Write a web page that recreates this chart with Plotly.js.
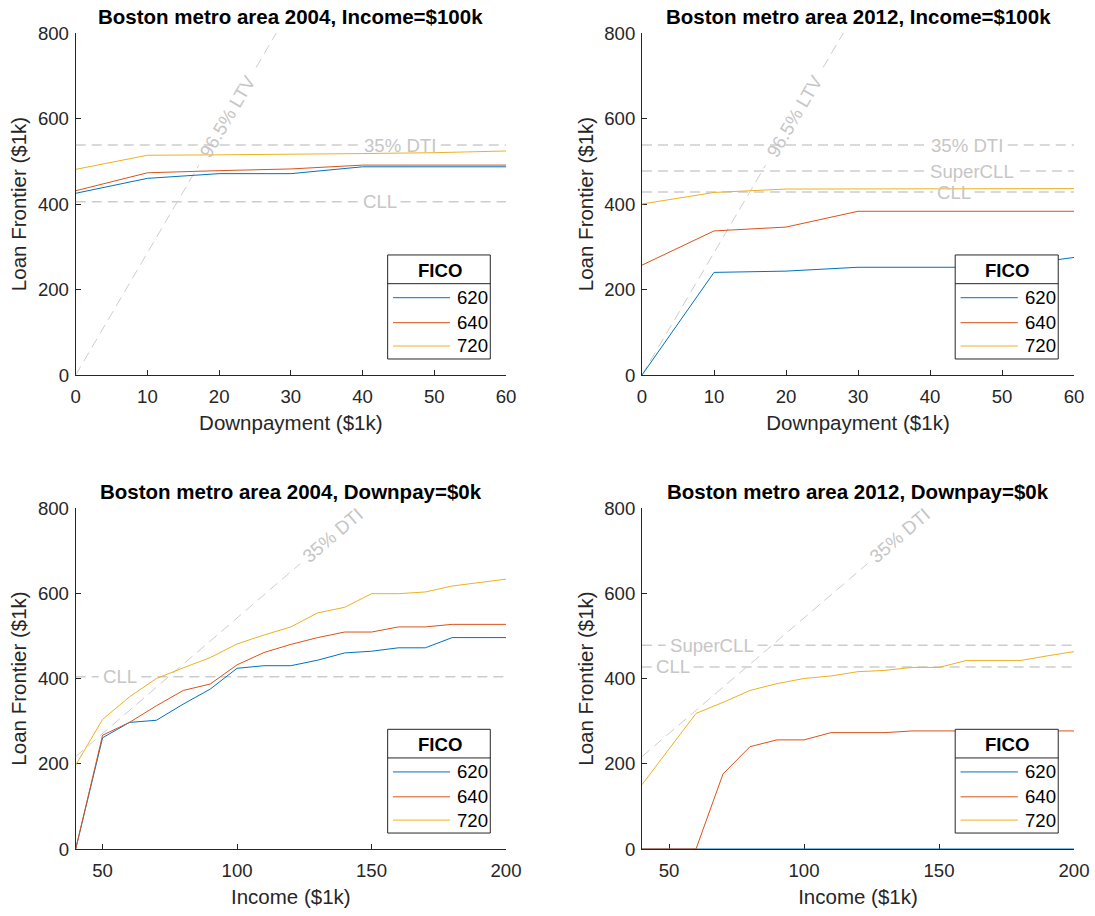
<!DOCTYPE html>
<html><head><meta charset="utf-8">
<script src="https://cdn.plot.ly/plotly-3.0.1.min.js"></script>
<style>html,body{margin:0;padding:0;background:#fff}#chart{width:1095px;height:916px}</style>
</head><body><div id="chart"></div>
<script>
// ---------- data ----------
const downpay = [0, 10, 20, 30, 40, 50, 60];
const incomes = [40, 50, 60, 70, 80, 90, 100, 110, 120, 130, 140, 150, 160, 170, 180, 190, 200];
const ficoLabels = ['620', '640', '720'];

const dp2004_620 = [425, 460, 471, 471, 487, 487, 487];
const dp2004_640 = [431, 473, 478, 482, 491, 491, 491];
const dp2004_720 = [481, 514, 515, 516, 518, 520, 524];

const dp2012_620 = [0, 240, 243, 252, 252, 252, 275];
const dp2012_640 = [257, 337, 346, 383, 383, 383, 383];
const dp2012_720 = [400, 427, 435, 435, 435, 436, 436];

const inc2004_620 = [0, 261, 297, 302, 340, 375, 424, 430, 430, 443, 460, 464, 472, 472, 496, 496, 496];
const inc2004_640 = [0, 267, 297, 336, 372, 387, 432, 461, 480, 496, 509, 509, 521, 521, 527, 527, 527];
const inc2004_720 = [197, 304, 357, 400, 425, 449, 481, 502, 521, 554, 567, 599, 599, 603, 617, 625, 633];

const inc2012_620 = [0, 0, 0, 0, 0, 0, 0, 0, 0, 0, 0, 0, 0, 0, 0, 0, 0];
const inc2012_640 = [0, 0, 0, 176, 240, 256, 256, 273, 273, 273, 277, 277, 277, 277, 277, 277, 277];
const inc2012_720 = [151, 234, 318, 344, 372, 388, 400, 406, 416, 419, 426, 426, 442, 442, 442, 453, 463];

// reference limits
const dti2004 = 538, cll2004 = 405;
const dti2012 = 538, superCll2012 = 477, cll2012 = 428;
const cllInc2004 = 404;
const superCllInc2012 = 478, cllInc2012 = 427;
const ltvSlope = 28.6;   // loan per $1k downpayment at 96.5% LTV
const dtiSlope = 5.42;   // loan per $1k income at 35% DTI

const titles = [
  'Boston metro area 2004, Income=$100k',
  'Boston metro area 2012, Income=$100k',
  'Boston metro area 2004, Downpay=$0k',
  'Boston metro area 2012, Downpay=$0k'
];

// ---------- style ----------
const COLORS = ['#0072BD', '#D95319', '#EDB120'];
const REF = '#cdcdcd';
const TXT = '#262626';
const FONT = 'Liberation Sans, Arial, Helvetica, sans-serif';
const TICK = 18.6, LAB = 20.5;

const traces = [];
function hLine(ax, y, x0, x1, g0, g1) {
  traces.push({x: [x0, g0, null, g1, x1], y: [y, y, null, y, y], xaxis: 'x' + ax, yaxis: 'y' + ax,
    mode: 'lines', line: {color: REF, width: 1.5, dash: '10px,6px'}, hoverinfo: 'skip', showlegend: false});
}
function dLine(ax, slope, x0, x1, g0, g1) {
  const xs = [x0, g0, null, g1, x1];
  traces.push({x: xs, y: xs.map(v => v === null ? null : v * slope), xaxis: 'x' + ax, yaxis: 'y' + ax,
    mode: 'lines', line: {color: REF, width: 1, dash: '10px,6px'}, hoverinfo: 'skip', showlegend: false});
}
function series(ax, xs, ys, i) {
  traces.push({x: xs, y: ys, xaxis: 'x' + ax, yaxis: 'y' + ax, mode: 'lines', name: ficoLabels[i],
    line: {color: COLORS[i], width: 1}, showlegend: false});
}

// plot 1
hLine('', dti2004, 0, 60, 39.5, 50.9);
hLine('', cll2004, 0, 60, 39.5, 45.3);
dLine('', ltvSlope, 0, 800 / ltvSlope, 17.15, 25.15);
// plot 2
hLine('2', dti2012, 0, 60, 39.4, 50.8);
hLine('2', superCll2012, 0, 60, 39.4, 52.5);
hLine('2', cll2012, 0, 60, 40.4, 46.2);
dLine('2', ltvSlope, 0, 800 / ltvSlope, 17.15, 25.15);
// plot 3
hLine('3', cllInc2004, 40, 200, 48.6, 64.4);
dLine('3', dtiSlope, 40, 800 / dtiSlope, 123.5, 800 / dtiSlope);
// plot 4
hLine('4', superCllInc2012, 40, 200, 48.8, 82.8);
hLine('4', cllInc2012, 40, 200, 43.6, 59.1);
dLine('4', dtiSlope, 40, 800 / dtiSlope, 123.5, 800 / dtiSlope);

[dp2004_620, dp2004_640, dp2004_720].forEach((s, i) => series('', downpay, s, i));
[dp2012_620, dp2012_640, dp2012_720].forEach((s, i) => series('2', downpay, s, i));
[inc2004_620, inc2004_640, inc2004_720].forEach((s, i) => series('3', incomes, s, i));
[inc2012_620, inc2012_640, inc2012_720].forEach((s, i) => series('4', incomes, s, i));

// ---------- axes ----------
const W = 1095, H = 916;
const colX = [[75.7, 506], [642, 1074]];
const rowY = [[33, 375], [508, 849]];
function dom(a, b, tot) { return [a / tot, b / tot]; }
function ydom(top, bot) { return [1 - bot / H, 1 - top / H]; }

function axisBase() {
  return {ticks: 'inside', ticklen: 5, tickwidth: 1, tickcolor: TXT, showline: true, linecolor: TXT, linewidth: 1,
    showgrid: false, zeroline: false, layer: 'below traces', fixedrange: true,
    tickfont: {family: FONT, size: TICK, color: TXT}};
}
function xAxis(c, r, range, dtick, title, anchor) {
  return Object.assign(axisBase(), {domain: dom(colX[c][0], colX[c][1], W), range: range, dtick: dtick, tick0: 0,
    anchor: anchor, ticklabelstandoff: 5,
    title: {text: title, font: {family: FONT, size: LAB, color: TXT}, standoff: 9}});
}
function yAxis(c, r, anchor) {
  return Object.assign(axisBase(), {domain: ydom(rowY[r][0], rowY[r][1]), range: [0, 800], dtick: 200, tick0: 0,
    anchor: anchor, ticklabelstandoff: 2,
    title: {text: 'Loan Frontier ($1k)', font: {family: FONT, size: LAB, color: TXT}, standoff: 5}});
}

const layout = {
  width: W, height: H, margin: {l: 0, r: 0, t: 0, b: 0}, paper_bgcolor: '#fff', plot_bgcolor: '#fff',
  font: {family: FONT, color: TXT}, showlegend: false,
  xaxis: xAxis(0, 0, [0, 60], 10, 'Downpayment ($1k)', 'y'),
  yaxis: yAxis(0, 0, 'x'),
  xaxis2: xAxis(1, 0, [0, 60], 10, 'Downpayment ($1k)', 'y2'),
  yaxis2: yAxis(1, 0, 'x2'),
  xaxis3: xAxis(0, 1, [40, 200], 50, 'Income ($1k)', 'y3'),
  yaxis3: yAxis(0, 1, 'x3'),
  xaxis4: xAxis(1, 1, [40, 200], 50, 'Income ($1k)', 'y4'),
  yaxis4: yAxis(1, 1, 'x4'),
  annotations: [], shapes: []
};

const axIds = ['', '2', '3', '4'];
// titles
axIds.forEach((id, k) => {
  layout.annotations.push({text: '<b>' + titles[k] + '</b>', xref: 'x' + id + ' domain', yref: 'y' + id + ' domain',
    x: 0.5, y: 1, xanchor: 'center', yanchor: 'bottom', yshift: 3, showarrow: false,
    font: {family: FONT, size: LAB, color: '#000'}});
});

// reference labels
function refLabel(id, text, x, y, angle) {
  layout.annotations.push({text: text, xref: 'x' + id, yref: 'y' + id, x: x, y: y, xanchor: 'center', yanchor: 'middle',
    showarrow: false, textangle: angle || 0, font: {family: FONT, size: TICK, color: '#c6c6c6'}});
}
refLabel('', '35% DTI', 45.2, dti2004);
refLabel('', 'CLL', 42.4, cll2004);
refLabel('', '96.5% LTV', 21.15, 21.15 * ltvSlope, -59.6);
refLabel('2', '35% DTI', 45.1, dti2012);
refLabel('2', 'SuperCLL', 45.9, superCll2012);
refLabel('2', 'CLL', 43.3, cll2012);
refLabel('2', '96.5% LTV', 21.15, 21.15 * ltvSlope, -59.6);
refLabel('3', 'CLL', 56.5, cllInc2004);
refLabel('3', '35% DTI', 135.5, 135.5 * dtiSlope, -40.7);
refLabel('4', 'SuperCLL', 65.8, superCllInc2012);
refLabel('4', 'CLL', 51.3, cllInc2012);
refLabel('4', '35% DTI', 135.5, 135.5 * dtiSlope, -40.7);

// legends (FICO boxes)
const LG = {x0: 0.725, x1: 0.9635, y0: 0.0468, y1: 0.351, sep: 0.267, tx: 0.8455, ty: 0.305,
  ly: [0.226, 0.153, 0.0848], lx0: 0.7374, lx1: 0.870, txtx: 0.8815};
axIds.forEach(id => {
  const xr = 'x' + id + ' domain', yr = 'y' + id + ' domain';
  layout.shapes.push({type: 'rect', xref: xr, yref: yr, x0: LG.x0, x1: LG.x1, y0: LG.y0, y1: LG.y1,
    line: {color: TXT, width: 1}, fillcolor: '#fff', layer: 'above'});
  layout.shapes.push({type: 'line', xref: xr, yref: yr, x0: LG.x0, x1: LG.x1, y0: LG.sep, y1: LG.sep,
    line: {color: TXT, width: 1}, layer: 'above'});
  layout.annotations.push({text: '<b>FICO</b>', xref: xr, yref: yr, x: LG.tx, y: LG.ty, xanchor: 'center', yanchor: 'middle',
    showarrow: false, font: {family: FONT, size: TICK, color: '#000'}});
  ficoLabels.forEach((lab, i) => {
    layout.shapes.push({type: 'line', xref: xr, yref: yr, x0: LG.lx0, x1: LG.lx1, y0: LG.ly[i], y1: LG.ly[i],
      line: {color: COLORS[i], width: 1}, layer: 'above'});
    layout.annotations.push({text: lab, xref: xr, yref: yr, x: LG.txtx, y: LG.ly[i], xanchor: 'left', yanchor: 'middle',
      showarrow: false, font: {family: FONT, size: TICK, color: '#000'}});
  });
});

Plotly.newPlot('chart', traces, layout, {staticPlot: true, displayModeBar: false});
</script>
</body></html>
